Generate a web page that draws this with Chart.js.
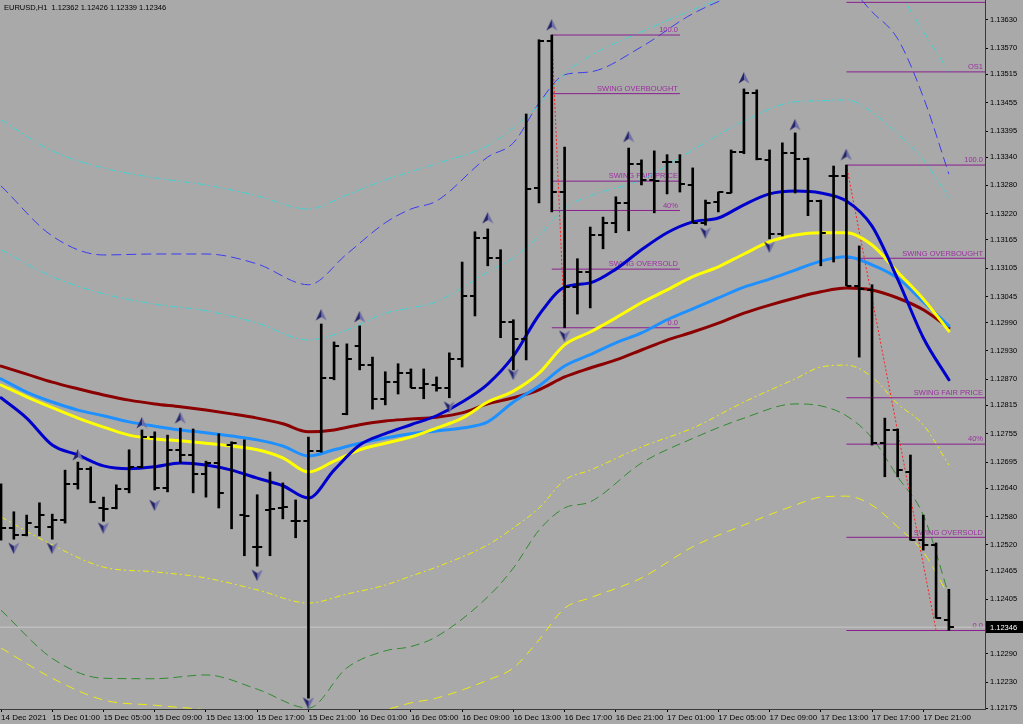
<!DOCTYPE html>
<html><head><meta charset="utf-8">
<script src="https://cdn.jsdelivr.net/npm/chart.js@4.4.1/dist/chart.umd.min.js"></script>
<style>html,body{margin:0;padding:0;background:#a9a9a9;overflow:hidden}canvas{display:block}</style>
</head><body><canvas id="c" width="1023" height="724"></canvas>
<script>
const symbol = 'EURUSD,H1';
const timeLabels = ['14 Dec 2021','15 Dec 01:00','15 Dec 05:00','15 Dec 09:00','15 Dec 13:00','15 Dec 17:00','15 Dec 21:00','16 Dec 01:00','16 Dec 05:00','16 Dec 09:00','16 Dec 13:00','16 Dec 17:00','16 Dec 21:00','17 Dec 01:00','17 Dec 05:00','17 Dec 09:00','17 Dec 13:00','17 Dec 17:00','17 Dec 21:00'];
const timeLabelIdx = [0,4,8,12,16,20,24,28,32,36,40,44,48,52,56,60,64,68,72];
const priceTicks = [1.13630,1.13570,1.13515,1.13455,1.13395,1.13340,1.13280,1.13220,1.13165,1.13105,1.13045,1.12990,1.12930,1.12870,1.12815,1.12755,1.12695,1.12640,1.12580,1.12520,1.12465,1.12405,1.12290,1.12230,1.12175];

const barOpen  = [1.12573,1.12556,1.12541,1.12558,1.12558,1.12573,1.12649,1.12681,1.12598,1.12598,1.12638,1.12685,1.12748,1.12640,1.12721,1.12710,1.12670,1.12693,1.12731,1.12583,1.12516,1.12594,1.12598,1.12570,1.12570,1.12718,1.12873,1.12797,1.12941,1.12900,1.12829,1.12864,1.12883,1.12852,1.12858,1.12852,1.12913,1.13046,1.13169,1.13127,1.12991,1.12955,1.13275,1.13586,1.13266,1.13065,1.13097,1.13175,1.13201,1.13243,1.13326,1.13292,1.13330,1.13330,1.13281,1.13201,1.13245,1.13264,1.13351,1.13476,1.13334,1.13177,1.13349,1.13336,1.13247,1.13300,1.13300,1.13068,1.13059,1.12735,1.12763,1.12674,1.12530,1.12520,1.12362];
const barHigh  = [1.12649,1.12590,1.12583,1.12609,1.12585,1.12678,1.12695,1.12685,1.12621,1.12647,1.12721,1.12763,1.12759,1.12752,1.12767,1.12765,1.12697,1.12755,1.12738,1.12742,1.12626,1.12674,1.12651,1.12615,1.12748,1.12987,1.12949,1.12945,1.12983,1.12917,1.12886,1.12903,1.12892,1.12892,1.12875,1.12926,1.13118,1.13182,1.13188,1.13144,1.12996,1.13431,1.13588,1.13598,1.13361,1.13125,1.13192,1.13213,1.13256,1.13359,1.13334,1.13353,1.13345,1.13345,1.13317,1.13249,1.13266,1.13355,1.13484,1.13482,1.13355,1.13370,1.13391,1.13338,1.13249,1.13321,1.13323,1.13152,1.13070,1.12788,1.12765,1.12710,1.12583,1.12524,1.12426];
const barLow   = [1.12530,1.12532,1.12539,1.12539,1.12532,1.12566,1.12638,1.12609,1.12570,1.12596,1.12630,1.12683,1.12636,1.12632,1.12693,1.12630,1.12621,1.12598,1.12554,1.12497,1.12475,1.12497,1.12575,1.12535,1.12196,1.12716,1.12869,1.12795,1.12890,1.12807,1.12816,1.12839,1.12852,1.12829,1.12845,1.12831,1.12896,1.13004,1.13110,1.12958,1.12890,1.12911,1.13243,1.13224,1.12979,1.13008,1.13021,1.13146,1.13180,1.13184,1.13281,1.13222,1.13262,1.13266,1.13201,1.13196,1.13224,1.13264,1.13347,1.13334,1.13167,1.13173,1.13264,1.13216,1.13110,1.13118,1.13068,1.12917,1.12731,1.12664,1.12664,1.12530,1.12509,1.12365,1.12339];
const barClose = [1.12556,1.12541,1.12566,1.12583,1.12573,1.12649,1.12681,1.12611,1.12596,1.12638,1.12685,1.12748,1.12640,1.12721,1.12710,1.12670,1.12693,1.12630,1.12735,1.12581,1.12516,1.12596,1.12600,1.12570,1.12718,1.12873,1.12941,1.12913,1.12900,1.12829,1.12864,1.12883,1.12852,1.12860,1.12852,1.12913,1.13046,1.13169,1.13127,1.12991,1.12955,1.13273,1.13586,1.13266,1.13065,1.13097,1.13175,1.13201,1.13243,1.13326,1.13292,1.13290,1.13330,1.13283,1.13201,1.13243,1.13266,1.13351,1.13476,1.13336,1.13177,1.13349,1.13336,1.13247,1.13180,1.13300,1.13068,1.13061,1.12735,1.12763,1.12678,1.12530,1.12520,1.12365,1.12346];

const maIdx = [0,2,4,6,8,10,12,14,16,18,20,22,24,26,28,30,32,34,36,38,40,42,44,46,48,50,52,54,56,58,60,62,64,66,68,70,72,74];
const maDarkRed = [1.12898,1.12881,1.12864,1.12850,1.12837,1.12826,1.12818,1.12812,1.12805,1.12797,1.12788,1.12776,1.12759,1.12763,1.12774,1.12782,1.12786,1.12790,1.12799,1.12818,1.12831,1.12848,1.12875,1.12894,1.12911,1.12932,1.12953,1.12970,1.12989,1.13010,1.13027,1.13042,1.13055,1.13063,1.13059,1.13042,1.13017,1.12979];
const maLightBlue = [1.12871,1.12843,1.12822,1.12805,1.12793,1.12780,1.12771,1.12763,1.12757,1.12750,1.12742,1.12729,1.12708,1.12721,1.12735,1.12746,1.12755,1.12761,1.12767,1.12780,1.12822,1.12856,1.12898,1.12922,1.12947,1.12968,1.12996,1.13019,1.13042,1.13065,1.13082,1.13101,1.13120,1.13129,1.13112,1.13084,1.13034,1.12983];
const maYellow = [1.12858,1.12833,1.12810,1.12788,1.12769,1.12752,1.12744,1.12740,1.12735,1.12729,1.12721,1.12704,1.12674,1.12697,1.12721,1.12735,1.12748,1.12767,1.12788,1.12822,1.12845,1.12883,1.12943,1.12970,1.13000,1.13032,1.13059,1.13087,1.13108,1.13135,1.13161,1.13175,1.13180,1.13180,1.13154,1.13097,1.13040,1.12972];
const maBlue = [1.12831,1.12788,1.12731,1.12710,1.12687,1.12681,1.12685,1.12693,1.12689,1.12678,1.12661,1.12645,1.12619,1.12678,1.12731,1.12755,1.12774,1.12793,1.12822,1.12860,1.12919,1.13006,1.13065,1.13074,1.13103,1.13144,1.13180,1.13203,1.13211,1.13239,1.13262,1.13268,1.13264,1.13247,1.13194,1.13082,1.12958,1.12869];

const bandIdx = [0,4,8,12,16,20,24,27,30,32,34,38,40,42,44,46,50,54,58,62,64,66,68,70,72,74];
const bandCyanOuter = [1.13419,1.13353,1.13317,1.13296,1.13281,1.13258,1.13230,1.13260,1.13292,1.13309,1.13326,1.13364,1.13402,1.13450,1.13516,1.13554,1.13605,1.13651,1.13693,1.13736,1.13753,1.13757,1.13725,1.13689,1.13605,1.13520];
const bandBlueDash = [1.13279,1.13173,1.13133,1.13135,1.13135,1.13114,1.13070,1.13135,1.13201,1.13230,1.13247,1.13340,1.13370,1.13454,1.13514,1.13520,1.13573,1.13643,1.13689,1.13719,1.13725,1.13704,1.13647,1.13590,1.13467,1.13304];
const bandCyanInner = [1.13144,1.13087,1.13051,1.13029,1.13015,1.12989,1.12953,1.12974,1.13010,1.13021,1.13034,1.13097,1.13127,1.13173,1.13232,1.13258,1.13292,1.13355,1.13416,1.13457,1.13459,1.13461,1.13435,1.13389,1.13334,1.13254];
const bandYellowInner = [1.12579,1.12520,1.12473,1.12463,1.12450,1.12425,1.12397,1.12416,1.12435,1.12454,1.12473,1.12520,1.12556,1.12598,1.12657,1.12678,1.12727,1.12767,1.12822,1.12871,1.12896,1.12900,1.12875,1.12818,1.12774,1.12689];
const bandGreen = [1.12382,1.12280,1.12238,1.12237,1.12245,1.12215,1.12175,1.12260,1.12296,1.12305,1.12326,1.12410,1.12471,1.12551,1.12598,1.12611,1.12693,1.12745,1.12788,1.12818,1.12814,1.12793,1.12746,1.12664,1.12583,1.12414];
const bandYellowOuter = [1.12302,1.12238,1.12192,1.12181,1.12171,1.12154,1.12139,1.12154,1.12171,1.12186,1.12196,1.12234,1.12260,1.12319,1.12386,1.12408,1.12450,1.12516,1.12562,1.12604,1.12621,1.12623,1.12604,1.12558,1.12505,1.12412];

const fib1Span = [43, 53];
const fib1Prices = [1.13598,1.13474,1.13289,1.13227,1.13103,1.12979];
const fib1Labels = ['100.0','SWING OVERBOUGHT','SWING FAIR PRICE','40%','SWING OVERSOLD','0.0'];
const fib2Span = [66, 'right'];
const fib2Prices = [1.13667,1.13520,1.13323,1.13126,1.12831,1.12733,1.12536,1.12339];
const fib2Labels = ['','OS1','100.0','SWING OVERBOUGHT','SWING FAIR PRICE','40%','SWING OVERSOLD','0.0'];
const swing1Idx = [43,44], swing1Price = [1.13598,1.12979];
const swing2Idx = [66,73], swing2Price = [1.13323,1.12339];

const upArrowIdx = [6,11,14,25,28,38,43,49,58,62,66];
const upArrowPrice = [1.12710,1.12778,1.12788,1.13006,1.13002,1.13211,1.13619,1.13383,1.13507,1.13408,1.13345];
const downArrowIdx = [1,4,8,12,20,24,35,40,44,55,60];
const downArrowPrice = [1.12513,1.12513,1.12556,1.12604,1.12456,1.12186,1.12812,1.12881,1.12962,1.13180,1.13150];

const X_MIN = -0.08, X_MAX = 76.82, Y_MIN = 1.12173, Y_MAX = 1.13672;
const FONT = '"Liberation Sans", Arial, sans-serif';
const FIB_LINE = '#8a1f8f', FIB_TEXT = '#9c2fa0';

function tickImg(side){
  const c = document.createElement('canvas'); c.width = 12; c.height = 2;
  const g = c.getContext('2d'); g.fillStyle = '#000';
  if (side < 0) g.fillRect(1,0,5,2); else g.fillRect(6,0,5,2);
  return c;
}
function arrowImg(up){
  const c = document.createElement('canvas'); c.width = 12; c.height = 12;
  const g = c.getContext('2d');
  if (!up){ g.translate(0,12); g.scale(1,-1); }
  g.beginPath(); g.moveTo(6,0); g.lineTo(0.5,11.5); g.lineTo(6,8); g.closePath(); g.fillStyle = '#23236a'; g.fill();
  g.beginPath(); g.moveTo(6,0); g.lineTo(11.5,11.5); g.lineTo(6,8); g.closePath(); g.fillStyle = '#6e6ea6'; g.fill();
  return c;
}
const pts = (idx, vals) => idx.map((t,k) => ({x:t, y:vals[k]}));

function bandDs(vals, color, dash, order){
  return {type:'line', data: pts(bandIdx, vals), borderColor: color, borderWidth: 1, borderDash: dash,
    pointRadius: 0, cubicInterpolationMode: 'monotone', fill: false, order};
}
function maDs(vals, color, order){
  return {type:'line', data: pts(maIdx, vals), borderColor: color, borderWidth: 3,
    pointRadius: 0, cubicInterpolationMode: 'monotone', fill: false, order, borderCapStyle:'round'};
}
const fibSets = [
  {start: fib1Span[0], end: fib1Span[1], prices: fib1Prices, labels: fib1Labels},
  {start: fib2Span[0], end: X_MAX, prices: fib2Prices, labels: fib2Labels}
];
const fibDatasets = [];
fibSets.forEach(f => f.prices.forEach(p => fibDatasets.push({type:'line',
  data:[{x:f.start,y:p},{x:f.end,y:p}], borderColor: FIB_LINE, borderWidth:1, pointRadius:0, order:80})));

const last = barClose.length - 1;
const datasets = [
  {type:'line', data:[{x:X_MIN,y:barClose[last]},{x:X_MAX,y:barClose[last]}], borderColor:'#c8c8c8', borderWidth:1, pointRadius:0, order:100},
  bandDs(bandCyanOuter, '#3fd2d2', [7,3,2,3], 91),
  bandDs(bandBlueDash, '#3c3cf0', [10,5], 91),
  bandDs(bandCyanInner, '#3fd2d2', [7,3,2,3], 91),
  bandDs(bandYellowInner, '#ecec10', [6,3,2,3], 91),
  bandDs(bandGreen, '#2f8a2f', [9,5], 91),
  bandDs(bandYellowOuter, '#ecec10', [9,6], 91),
  ...fibDatasets,
  {type:'line', data: pts(swing1Idx, swing1Price), borderColor:'#ff2020', borderWidth:1, borderDash:[2,2], pointRadius:0, order:75},
  {type:'line', data: pts(swing2Idx, swing2Price), borderColor:'#ff2020', borderWidth:1, borderDash:[2,2], pointRadius:0, order:75},
  maDs(maDarkRed, '#8b0000', 60),
  maDs(maLightBlue, '#1e90ff', 59),
  maDs(maYellow, '#ffff00', 58),
  maDs(maBlue, '#0000cd', 57),
  {type:'bar', data: barOpen.map((o,i) => ({x:i, y:[barLow[i], barHigh[i]]})), backgroundColor:'#000', borderWidth:0, barThickness:2, order:20},
  {type:'line', showLine:false, data: barOpen.map((o,i) => ({x:i, y:o})), pointStyle: tickImg(-1), pointRadius:3, order:15},
  {type:'line', showLine:false, data: barClose.map((c,i) => ({x:i, y:c})), pointStyle: tickImg(1), pointRadius:3, order:15},
  {type:'line', showLine:false, data: pts(upArrowIdx, upArrowPrice), pointStyle: arrowImg(true), pointRadius:5, order:10},
  {type:'line', showLine:false, data: pts(downArrowIdx, downArrowPrice), pointStyle: arrowImg(false), pointRadius:5, order:10}
];

const overlay = {
  id:'overlay',
  beforeDatasetsDraw(chart){
    const {ctx, scales:{x, y}, chartArea:a} = chart;
    ctx.save();
    ctx.font = '7.5px ' + FONT; ctx.fillStyle = FIB_TEXT; ctx.textAlign = 'right'; ctx.textBaseline = 'bottom';
    fibSets.forEach(f => {
      const xr = Math.min(x.getPixelForValue(f.end), a.right) - 2;
      f.prices.forEach((p,k) => { if (f.labels[k]) ctx.fillText(f.labels[k], xr, y.getPixelForValue(p) - 1); });
    });
    ctx.restore();
  },
  afterDraw(chart){
    const {ctx, scales:{y}, chartArea:a} = chart;
    ctx.save();
    ctx.font = '7.5px ' + FONT; ctx.fillStyle = '#000'; ctx.textAlign = 'left'; ctx.textBaseline = 'middle';
    const t = symbol + '  ' + [barOpen[last], barHigh[last], barLow[last], barClose[last]].map(v => v.toFixed(5)).join(' ');
    ctx.fillText(t, a.left + 4, a.top + 8);
    const py = Math.round(y.getPixelForValue(barClose[last]));
    ctx.fillStyle = '#000'; ctx.fillRect(a.right + 1, py - 6, chart.width - a.right - 1, 12);
    ctx.fillStyle = '#fff'; ctx.font = '7.5px ' + FONT;
    ctx.fillText(barClose[last].toFixed(5), a.right + 5, py + 0.5);
    ctx.restore();
  }
};

new Chart(document.getElementById('c'), {
  type: 'line',
  data: {datasets},
  options: {
    responsive:false, animation:false, events:[], devicePixelRatio:1,
    layout:{padding:0, autoPadding:false},
    plugins:{legend:{display:false}, tooltip:{enabled:false}, title:{display:false}},
    scales:{
      x:{type:'linear', min:X_MIN, max:X_MAX, offset:false, position:'bottom',
        grid:{offset:false, drawOnChartArea:false, drawTicks:true, tickLength:3, color:'#000'},
        border:{display:true, color:'#3a3a3a', width:1},
        ticks:{autoSkip:false, maxRotation:0, align:'start', padding:1, color:'#000', font:{family:FONT, size:8},
          callback:(v, i) => timeLabels[i]},
        afterBuildTicks:s => { s.ticks = timeLabelIdx.map(v => ({value:v})); },
        afterFit:s => { s.height = 15; s.paddingLeft = 0; s.paddingRight = 0; s.paddingTop = 0; s.paddingBottom = 0; }
      },
      y:{type:'linear', min:Y_MIN, max:Y_MAX, position:'right', beginAtZero:false,
        grid:{drawOnChartArea:false, drawTicks:true, tickLength:3, color:'#000'},
        border:{display:true, color:'#3a3a3a', width:1},
        ticks:{autoSkip:false, padding:2, color:'#000', font:{family:FONT, size:7.5}, callback:v => v.toFixed(5)},
        afterBuildTicks:s => { s.ticks = priceTicks.map(v => ({value:v})); },
        afterFit:s => { s.width = 38; s.paddingLeft = 0; s.paddingRight = 0; s.paddingTop = 0; s.paddingBottom = 0; }
      }
    }
  },
  plugins:[overlay]
});
</script>
</body></html>
